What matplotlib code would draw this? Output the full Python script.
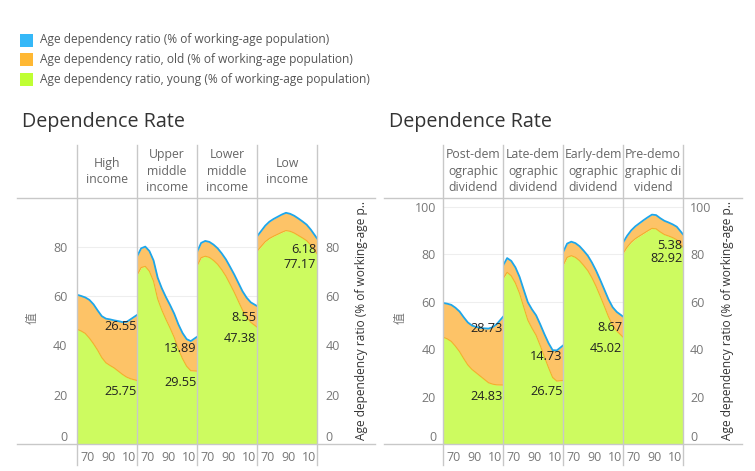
import matplotlib
matplotlib.use("Agg")
import matplotlib.pyplot as plt
from matplotlib.lines import Line2D
from matplotlib.patches import Rectangle

plt.rcParams['font.family'] = ['Open Sans', 'Noto Sans CJK SC', 'DejaVu Sans']

years = [1960, 1964, 1968, 1972, 1976, 1980, 1984, 1988, 1992, 1996, 2000, 2004, 2008, 2012, 2018]

# income groups
hi_young = [46.5, 45.8, 44.8, 42.9, 40.6, 38.0, 35.0, 32.9, 31.8, 30.8, 29.5, 28.2, 27.1, 26.4, 25.75]
hi_old = [14.0, 14.2, 14.6, 15.5, 16.0, 16.1, 16.8, 17.9, 18.7, 19.3, 20.3, 21.2, 22.4, 24.2, 26.55]
umi_young = [68.4, 71.5, 72.0, 70.0, 66.0, 58.8, 54.3, 50.5, 47.0, 43.2, 38.5, 34.6, 31.5, 29.7, 29.55]
umi_old = [7.6, 7.8, 8.0, 8.2, 8.4, 8.6, 8.8, 9.0, 9.3, 9.6, 10.0, 10.4, 11.0, 12.0, 13.89]
lmi_young = [72.1, 75.5, 76.1, 75.6, 74.4, 72.8, 70.6, 68.0, 64.8, 61.5, 57.9, 54.3, 51.5, 49.3, 47.38]
lmi_old = [5.7, 6.0, 6.2, 6.3, 6.4, 6.5, 6.6, 6.8, 7.0, 7.2, 7.4, 7.6, 7.8, 8.1, 8.55]
li_young = [78.1, 80.1, 82.0, 83.3, 84.2, 85.0, 85.8, 86.5, 86.2, 85.5, 84.5, 83.5, 82.4, 80.6, 77.17]
li_old = [6.0, 6.2, 6.5, 6.8, 7.0, 7.1, 7.2, 7.2, 7.1, 7.0, 6.9, 6.7, 6.5, 6.3, 6.18]

# demographic dividend groups
post_young = [45.0, 44.3, 43.2, 41.2, 38.9, 36.0, 33.3, 31.4, 30.0, 28.6, 27.2, 25.8, 25.2, 24.9, 24.83]
post_old = [14.4, 14.8, 15.4, 16.2, 16.9, 17.4, 17.9, 18.5, 19.3, 20.3, 21.5, 22.8, 24.0, 25.6, 28.73]
late_young = [69.6, 72.3, 70.8, 67.8, 63.5, 57.8, 52.2, 48.8, 45.8, 41.5, 36.8, 32.2, 28.0, 26.5, 26.75]
late_old = [5.5, 6.0, 6.3, 6.6, 6.9, 7.2, 7.5, 7.9, 8.4, 8.9, 9.5, 10.3, 11.5, 12.9, 14.73]
early_young = [75.1, 78.6, 79.3, 78.6, 77.2, 75.2, 73.0, 70.0, 66.4, 62.3, 58.0, 53.6, 50.0, 47.6, 45.02]
early_old = [5.6, 5.8, 5.9, 6.0, 6.1, 6.2, 6.3, 6.4, 6.6, 6.8, 7.0, 7.3, 7.6, 8.0, 8.67]
pre_young = [80.2, 82.9, 85.0, 86.5, 87.6, 88.7, 89.8, 90.8, 90.6, 89.3, 88.2, 87.6, 86.9, 86.0, 82.92]
pre_old = [4.6, 4.8, 5.0, 5.2, 5.4, 5.6, 5.7, 5.8, 5.8, 5.8, 5.8, 5.7, 5.6, 5.5, 5.38]

income_labels = ['High\nincome', 'Upper\nmiddle\nincome', 'Lower\nmiddle\nincome', 'Low\nincome']
dividend_labels = ['Post-dem\nographic\ndividend', 'Late-dem\nographic\ndividend',
                   'Early-dem\nographic\ndividend', 'Pre-demo\ngraphic di\nvidend']

legend_labels = ['Age dependency ratio (% of working-age population)',
                 'Age dependency ratio, old (% of working-age population)',
                 'Age dependency ratio, young (% of working-age population)']

BLUE = '#35b8f8'
ORANGE = '#ffb833'
GREEN = '#bfff33'
ORANGE_FILL = '#fdc367'
GREEN_FILL = '#cdfb60'
LINE_BLUE = '#1ea6ea'
LINE_ORANGE = '#f2b02a'
GRID = '#c8c8c8'
TICK = '#777777'

W, H = 755, 471
fig = plt.figure(figsize=(W / 100, H / 100), dpi=100)


def fx(px):
    return px / W


def fy(py):
    return 1 - py / H


def hline(x0, x1, y):
    fig.add_artist(Line2D([fx(x0), fx(x1)], [fy(y), fy(y)], color=GRID, lw=1))


def vline(x, y0, y1):
    fig.add_artist(Line2D([fx(x), fx(x)], [fy(y0), fy(y1)], color=GRID, lw=1))


# legend
for i, (lab, col) in enumerate(zip(legend_labels, [BLUE, ORANGE, GREEN])):
    yc = 40 + 19.7 * i
    fig.add_artist(Rectangle((fx(20), fy(yc + 6.5)), fx(13), 13 / H, color=col, lw=0))
    fig.text(fx(40), fy(yc), lab, fontsize=8.6, color='#555555', va='center', ha='left')


def draw_panel(left, title_x, ymax, yticks, labels, youngs, olds, pad_l, pad_r, line_x0, line_x1,
               zhi_x, rtitle_x):
    fig.text(fx(title_x), fy(122), 'Dependence Rate', fontsize=14.2, color='#333333',
             va='center', ha='left')
    top, bottom = 198, 444
    for k in range(4):
        x0 = left + 60 * k
        ax = fig.add_axes([fx(x0), fy(bottom), fx(60), (bottom - top) / H])
        young = youngs[k]
        old = olds[k]
        total = [a + b for a, b in zip(young, old)]
        ax.fill_between(years, 0, young, color=GREEN_FILL, lw=0)
        ax.fill_between(years, young, total, color=ORANGE_FILL, lw=0)
        ax.plot(years, young, color=LINE_ORANGE, lw=0.8)
        ax.plot(years, total, color=LINE_BLUE, lw=1.3)
        ax.set_xlim(1960, 2018)
        ax.set_ylim(0, ymax)
        ax.set_yticks(yticks)
        ax.yaxis.grid(True, color='#eeeeee', lw=0.8)
        ax.set_axisbelow(True)
        for s in ax.spines.values():
            s.set_visible(False)
        ax.set_xticks([1970, 1990, 2010])
        ax.set_xticklabels(['70', '90', '10'])
        ax.tick_params(axis='x', length=0, pad=5, labelsize=9, labelcolor=TICK)
        ax.tick_params(axis='y', length=0, labelsize=9, labelcolor=TICK,
                       left=False, right=False, labelleft=(k == 0), labelright=(k == 3))
        if k == 0:
            ax.tick_params(axis='y', pad=pad_l)
        if k == 3:
            ax.tick_params(axis='y', pad=pad_r)
        if k in (0, 3):
            for t in ax.get_yticklabels():
                if t.get_text() in ('0', '−0'):
                    t.set_verticalalignment('bottom')
        # end-of-series value labels
        ax.annotate(f'{old[-1]:.2f}', (years[-1], total[-1]), xytext=(-0.5, -3.5),
                    textcoords='offset points', ha='right', va='top', fontsize=9.2, color='#222222')
        ax.annotate(f'{young[-1]:.2f}', (years[-1], young[-1]), xytext=(-0.5, -3.5),
                    textcoords='offset points', ha='right', va='top', fontsize=9.2, color='#222222')
        ax.text(0.5, 1.108, labels[k], transform=ax.transAxes, ha='center', va='center',
                fontsize=8.8, color='#666666', linespacing=1.35)
    for k in range(5):
        vline(left + 60 * k, 145, 465)
    hline(line_x0, line_x1, top)
    hline(line_x0, line_x1, bottom)
    fig.text(fx(zhi_x), fy(318), '值', fontsize=8.5, color='#777777', rotation=90,
             va='center', ha='center')
    fig.text(fx(rtitle_x), fy(320), 'Age dependency ratio (% of working-age p..', fontsize=8.6,
             color='#333333', rotation=90, va='center', ha='center')


draw_panel(77, 22, 99.7, [0, 20, 40, 60, 80], income_labels,
           [hi_young, umi_young, lmi_young, li_young], [hi_old, umi_old, lmi_old, li_old],
           7, 6, 17, 375, 32, 361)
draw_panel(443, 389, 103.6, [0, 20, 40, 60, 80, 100], dividend_labels,
           [post_young, late_young, early_young, pre_young], [post_old, late_old, early_old, pre_old],
           5, 5, 384, 742, 400, 727)

fig.savefig('out.png', dpi=100)
